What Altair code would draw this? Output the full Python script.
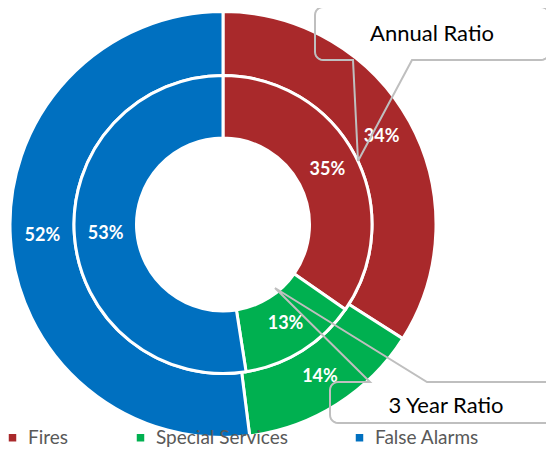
import math
import altair as alt
import pandas as pd

# ---- data ----
categories = ["Fires", "Special Services", "False Alarms"]
colors = ["#A9292B", "#00B050", "#0070C0"]
annual = [34, 14, 52]        # outer ring
three_year = [35, 13, 53]    # inner ring
callout_texts = ["Annual Ratio", "3 Year Ratio"]

W, H = 538, 440
CX, CY = 215, 216.5
R_HOLE, R_MID, R_OUT = 86.5, 149, 213

def ring_df(vals):
    return pd.DataFrame({
        "category": categories,
        "value": vals,
        "idx": list(range(len(categories))),
        "label": [f"{v}%" for v in vals],
    })

outer_df = ring_df(annual)
inner_df = ring_df(three_year)

color = alt.Color("category:N", scale=alt.Scale(domain=categories, range=colors),
                  legend=alt.Legend(orient="none", legendX=-5, legendY=420, direction="horizontal",
                                    title=None, symbolType="square", symbolSize=56,
                                    symbolStrokeWidth=0, labelFont="Lato", labelFontSize=19,
                                    labelColor="#595959", labelOffset=6, columnPadding=62,
                                    padding=0))

def ring(df, r_in, r_out, show_legend):
    base = alt.Chart(df).transform_joinaggregate(total="sum(value)").transform_calculate(
        frac="datum.value / datum.total")
    enc = dict(
        theta=alt.Theta("frac:Q", stack=True),
        order=alt.Order("idx:O"),
        x=alt.value(CX), y=alt.value(CY),
    )
    arc = base.mark_arc(radius=r_out, radius2=r_in, stroke="white", strokeWidth=3).encode(
        color=color if show_legend else alt.Color("category:N", scale=alt.Scale(domain=categories, range=colors), legend=None),
        **enc)
    txt = base.mark_text(radius=(r_in + r_out) / 2, font="Lato", fontSize=18, fontWeight="bold",
                         color="white").encode(text="label:N", **enc)
    return arc, txt

oa, ot = ring(outer_df, R_MID, R_OUT, True)
ia, it = ring(inner_df, R_HOLE, R_MID, False)

# ---- callouts (page pixel coordinates) ----
def corner(cx, cy, r, a0, a1, n=6):
    return [(cx + r * math.cos(math.radians(a0 + (a1 - a0) * k / n)),
             cy + r * math.sin(math.radians(a0 + (a1 - a0) * k / n))) for k in range(n + 1)]

rr = 8
L, T, Rt, B = 315, 7, 549, 60
p1 = [(358, 161), (353, B)]
p1 += corner(L + rr, B - rr, rr, 90, 180)
p1 += corner(L + rr, T + rr, rr, 180, 270)
p1 += corner(Rt - rr, T + rr, rr, 270, 360)
p1 += corner(Rt - rr, B - rr, rr, 0, 90)
p1 += [(412, B), (358, 161)]

L2, T2, R2, B2 = 330, 382, 575, 423
p2 = [(R2, T2), (427, T2), (275, 288), (370, T2)]
p2 += corner(L2 + rr, T2 + rr, rr, 270, 180)
p2 += corner(L2 + rr, B2 - rr, rr, 180, 90)
p2 += [(R2, B2)]

rows = []
for gid, pts in enumerate([p1, p2]):
    for i, (px, py) in enumerate(pts):
        rows.append({"g": gid, "i": i, "px": px, "py": py})
path_df = pd.DataFrame(rows)

xs = alt.Scale(domain=[8, 8 + W], nice=False, zero=False)
ys = alt.Scale(domain=[8 + H, 8], nice=False, zero=False)

lines = alt.Chart(path_df).mark_line(stroke="#BFBFBF", strokeWidth=2, clip=True).encode(
    x=alt.X("px:Q", scale=xs, axis=None),
    y=alt.Y("py:Q", scale=ys, axis=None),
    detail="g:N",
    order="i:Q",
)

ct_df = pd.DataFrame({"t": callout_texts, "px": [432, 446], "py": [34, 406]})
ctext = alt.Chart(ct_df).mark_text(font="Lato", fontSize=22, color="#000000").encode(
    x=alt.X("px:Q", scale=xs, axis=None),
    y=alt.Y("py:Q", scale=ys, axis=None),
    text="t:N",
)

chart = alt.layer(oa, ia, ot, it, lines, ctext).properties(
    width=W, height=H, autosize=alt.AutoSizeParams(type="none"), padding=0
).configure_view(stroke=None)

chart.save("out.html", embed_options={"renderer": "svg", "actions": False})
